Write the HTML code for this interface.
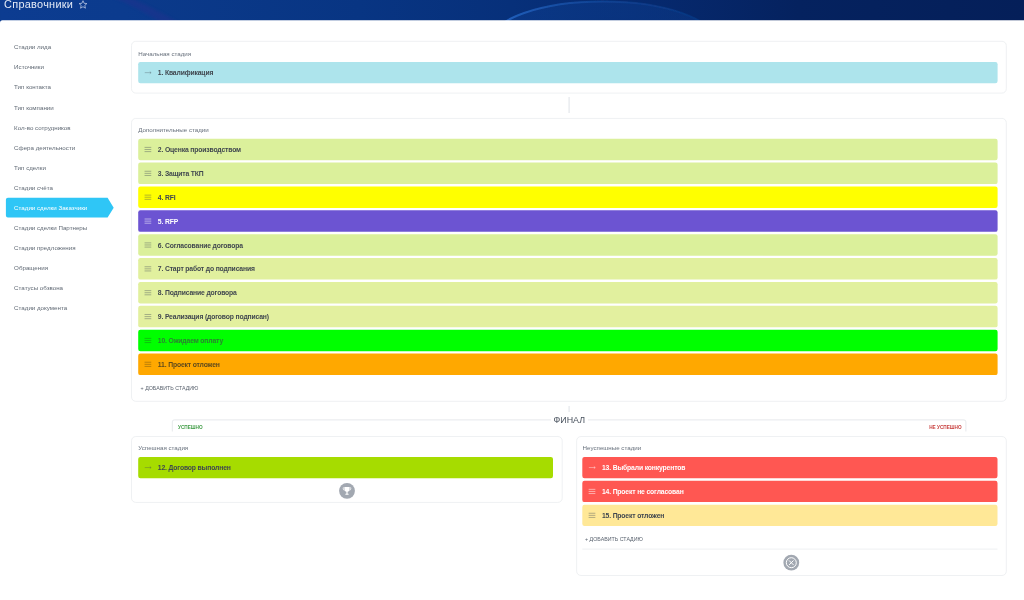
<!DOCTYPE html>
<html lang="ru"><head><meta charset="utf-8"><title>Справочники</title>
<style>
*{margin:0;padding:0;box-sizing:border-box}
html,body{width:1024px;height:600px;overflow:hidden;background:#fff}
body{position:relative;font-family:"Liberation Sans",Arial,sans-serif;color:#333}
.abs,.rt,.si,.lbl,.add,.tg{position:absolute;white-space:nowrap}
#hdr{left:0;top:0;width:1024px;height:24px;overflow:hidden;background:linear-gradient(90deg,#0c3b8f 0,#0b3a8b 12%,#083583 35%,#07307a 50%,#062a70 62%,#05225f 78%,#051f59 100%)}
#title{left:4.1px;top:-2.7px;font-size:10.9px;line-height:14px;color:#e4eaf6;letter-spacing:.28px}
.si{left:14.1px;height:20px;line-height:20px;font-size:6.2px;color:#616a75}
.si.act{color:#fff}
.lbl{font-size:6.2px;line-height:10px;color:#67707c}
.rt{font-weight:700;font-size:6.8px;letter-spacing:-.15px;color:#40474f}
.rt.w{color:#fff}
.rt.g{color:#2d7f33}
.rt.o{color:#5e4a1c}
.add{font-size:5.3px;line-height:8px;color:#59626e}
#fin{left:551px;top:411.5px;width:36.5px;height:16px;line-height:16px;text-align:center;background:#fff;font-size:8.9px;color:#48515d}
.tg{font-size:5.6px;line-height:8px;font-weight:700;transform:scaleX(.84)}
#bg{position:absolute;left:0;top:0}
#tx{position:absolute;left:0;top:0;width:1024px;height:600px;will-change:transform}
</style></head><body>
<div id="hdr" class="abs">
<svg width="1024" height="24" viewBox="0 0 1024 24" style="position:absolute;left:0;top:0">
<defs>
<linearGradient id="g1" x1="0" y1="0" x2="1" y2="0"><stop offset="0" stop-color="#2668c8" stop-opacity=".9"/><stop offset=".5" stop-color="#1a55ad" stop-opacity=".45"/><stop offset="1" stop-color="#0d3f8e" stop-opacity=".25"/></linearGradient>
<radialGradient id="g2" cx=".5" cy="1" r=".8"><stop offset="0" stop-color="#0a357e" stop-opacity=".0"/><stop offset="1" stop-color="#10469c" stop-opacity=".32"/></radialGradient>
<filter id="bl" x="-10%" y="-50%" width="120%" height="200%"><feGaussianBlur stdDeviation="1.6"/></filter>
<filter id="bl2" x="-10%" y="-10%" width="120%" height="120%"><feGaussianBlur stdDeviation=".7"/></filter>
</defs>
<ellipse cx="603" cy="40" rx="112" ry="39" fill="url(#g2)"/><ellipse cx="603" cy="40.6" rx="111.5" ry="39" fill="none" stroke="url(#g1)" stroke-width="2" filter="url(#bl2)"/>
<path d="M0 -4H112Q140 7 166 25H0Z" fill="#1146a2" opacity=".13" filter="url(#bl)"/><path d="M126 -4Q152 7 183 25H164Q140 8 110 -4Z" fill="#2b2f92" opacity=".36" filter="url(#bl)"/>
</svg>
</div>
<svg id="bg" width="1024" height="600" viewBox="0 0 1024 600">
<path d="M0 600V22.7A2.5 2.5 0 0 1 2.5 20.2H1024V600Z" fill="#fff"/>
<path d="M7.9 197.8H107.6L113.7 207.65L107.6 217.5H7.9A2 2 0 0 1 5.9 215.5V199.8A2 2 0 0 1 7.9 197.8Z" fill="#2fc6f6"/>
<rect x="131.5" y="41.3" width="874.80" height="51.80" rx="4.3" fill="#fff" stroke="#eff1f3" stroke-width="1"/>
<rect x="131.5" y="118.4" width="874.80" height="282.90" rx="4.3" fill="#fff" stroke="#eff1f3" stroke-width="1"/>
<rect x="131.5" y="436.5" width="430.70" height="65.90" rx="4.3" fill="#fff" stroke="#eff1f3" stroke-width="1"/>
<rect x="576.65" y="436.5" width="429.65" height="139.00" rx="4.3" fill="#fff" stroke="#eff1f3" stroke-width="1"/>
<path d="M569.1 97V113M569.1 405.9V412.4" stroke="#e4e7eb" stroke-width="1.2" fill="none"/>
<path d="M172.3 431.5V421.9A2 2 0 0 1 174.3 419.9H963.9A2 2 0 0 1 965.9 421.9V431.5" stroke="#e6e9ec" stroke-width="1" fill="none"/>
<rect x="138.2" y="62.0" width="859.4" height="21.3" rx="2.2" fill="#ade4ec"/>
<path d="M144.75 72.65h6.3M149.75 71.55l1.4 1.1l-1.4 1.1" stroke="rgba(70,80,90,.43)" stroke-width=".75" fill="none"/>
<rect x="138.2" y="138.75" width="859.4" height="21.5" rx="2.2" fill="#dbf09b"/>
<path d="M144.55 147.40h6.7M144.55 149.50h6.7M144.55 151.60h6.7" stroke="rgba(70,80,90,.43)" stroke-width=".95" fill="none"/>
<rect x="138.2" y="162.62" width="859.4" height="21.5" rx="2.2" fill="#dbf09b"/>
<path d="M144.55 171.27h6.7M144.55 173.37h6.7M144.55 175.47h6.7" stroke="rgba(70,80,90,.43)" stroke-width=".95" fill="none"/>
<rect x="138.2" y="186.49" width="859.4" height="21.5" rx="2.2" fill="#ffff00"/>
<path d="M144.55 195.14h6.7M144.55 197.24h6.7M144.55 199.34h6.7" stroke="rgba(70,80,90,.43)" stroke-width=".95" fill="none"/>
<rect x="138.2" y="210.36" width="859.4" height="21.5" rx="2.2" fill="#6c54d2"/>
<path d="M144.55 219.01h6.7M144.55 221.11h6.7M144.55 223.21h6.7" stroke="rgba(255,255,255,.54)" stroke-width=".95" fill="none"/>
<rect x="138.2" y="234.23" width="859.4" height="21.5" rx="2.2" fill="#dbf09b"/>
<path d="M144.55 242.88h6.7M144.55 244.98h6.7M144.55 247.08h6.7" stroke="rgba(70,80,90,.43)" stroke-width=".95" fill="none"/>
<rect x="138.2" y="258.1" width="859.4" height="21.5" rx="2.2" fill="#e1f09e"/>
<path d="M144.55 266.75h6.7M144.55 268.85h6.7M144.55 270.95h6.7" stroke="rgba(70,80,90,.43)" stroke-width=".95" fill="none"/>
<rect x="138.2" y="281.97" width="859.4" height="21.5" rx="2.2" fill="#e1f09e"/>
<path d="M144.55 290.62h6.7M144.55 292.72h6.7M144.55 294.82h6.7" stroke="rgba(70,80,90,.43)" stroke-width=".95" fill="none"/>
<rect x="138.2" y="305.84" width="859.4" height="21.5" rx="2.2" fill="#e3f09f"/>
<path d="M144.55 314.49h6.7M144.55 316.59h6.7M144.55 318.69h6.7" stroke="rgba(70,80,90,.43)" stroke-width=".95" fill="none"/>
<rect x="138.2" y="329.71" width="859.4" height="21.5" rx="2.2" fill="#00ff00"/>
<path d="M144.55 338.36h6.7M144.55 340.46h6.7M144.55 342.56h6.7" stroke="rgba(30,110,30,.43)" stroke-width=".95" fill="none"/>
<rect x="138.2" y="353.58" width="859.4" height="21.5" rx="2.2" fill="#ffa800"/>
<path d="M144.55 362.23h6.7M144.55 364.33h6.7M144.55 366.43h6.7" stroke="rgba(90,70,20,.43)" stroke-width=".95" fill="none"/>
<rect x="138.2" y="456.9" width="414.8" height="21.3" rx="2.2" fill="#a6dc00"/>
<path d="M144.75 467.55h6.3M149.75 466.45l1.4 1.1l-1.4 1.1" stroke="rgba(70,80,90,.43)" stroke-width=".75" fill="none"/>
<rect x="582.3" y="456.9" width="415.2" height="21.3" rx="2.2" fill="#ff5752"/>
<path d="M588.85 467.55h6.3M593.85 466.45l1.4 1.1l-1.4 1.1" stroke="rgba(255,255,255,.54)" stroke-width=".75" fill="none"/>
<rect x="582.3" y="480.8" width="415.2" height="21.3" rx="2.2" fill="#ff5752"/>
<path d="M588.65 489.35h6.7M588.65 491.45h6.7M588.65 493.55h6.7" stroke="rgba(255,255,255,.54)" stroke-width=".95" fill="none"/>
<rect x="582.3" y="504.7" width="415.2" height="21.3" rx="2.2" fill="#ffe897"/>
<path d="M588.65 513.25h6.7M588.65 515.35h6.7M588.65 517.45h6.7" stroke="rgba(70,80,90,.43)" stroke-width=".95" fill="none"/>
<path d="M582.3 549.1H997.5" stroke="#eef0f2" stroke-width="1" fill="none"/>
<path transform="translate(78.5 .2)" d="M4.5 .5L5.6 3.1L8.4 3.35L6.3 5.2L6.95 8L4.5 6.5L2.05 8L2.7 5.2L.6 3.35L3.4 3.1Z" fill="none" stroke="#cfd9ee" stroke-width=".7" stroke-linejoin="round"/>
<g transform="translate(339 482.8)"><circle cx="8" cy="8" r="7.9" fill="#a2a8b1"/><path d="M5.4 4.3H10.6V6.2C10.6 7.9 9.5 9.1 8 9.1C6.5 9.1 5.4 7.9 5.4 6.2ZM7.4 9H8.6V11H7.4ZM6.4 10.9H9.6V12H6.4Z" fill="#fff"/><path d="M5.2 5H4.2V6C4.2 6.9 4.8 7.4 5.6 7.5M10.8 5H11.8V6C11.8 6.9 11.2 7.4 10.4 7.5" fill="none" stroke="#fff" stroke-width=".7"/></g>
<g transform="translate(783.3 554.7)"><circle cx="8" cy="8" r="7.9" fill="#a2a8b1"/><circle cx="8" cy="8" r="5" fill="none" stroke="#fff" stroke-width="1"/><path d="M5.8 5.8L10.2 10.2M10.2 5.8L5.8 10.2" stroke="#fff" stroke-width="1" fill="none"/></g>
</svg>
<div id="tx">
<div class="rt d" style="left:157.80px;top:62.00px;height:21.3px;line-height:21.3px">1. Квалификация</div>
<div class="rt d" style="left:157.80px;top:139.02px;height:21.5px;line-height:21.5px">2. Оценка производством</div>
<div class="rt d" style="left:157.80px;top:162.89px;height:21.5px;line-height:21.5px">3. Защита ТКП</div>
<div class="rt d" style="left:157.80px;top:186.76px;height:21.5px;line-height:21.5px">4. RFI</div>
<div class="rt w" style="left:157.80px;top:210.63px;height:21.5px;line-height:21.5px">5. RFP</div>
<div class="rt d" style="left:157.80px;top:234.50px;height:21.5px;line-height:21.5px">6. Согласование договора</div>
<div class="rt d" style="left:157.80px;top:258.37px;height:21.5px;line-height:21.5px">7. Старт работ до подписания</div>
<div class="rt d" style="left:157.80px;top:282.24px;height:21.5px;line-height:21.5px">8. Подписание договора</div>
<div class="rt d" style="left:157.80px;top:306.11px;height:21.5px;line-height:21.5px">9. Реализация (договор подписан)</div>
<div class="rt g" style="left:157.80px;top:329.98px;height:21.5px;line-height:21.5px">10. Ожидаем оплату</div>
<div class="rt o" style="left:157.80px;top:353.85px;height:21.5px;line-height:21.5px">11. Проект отложен</div>
<div class="rt d" style="left:157.80px;top:457.00px;height:21.3px;line-height:21.3px">12. Договор выполнен</div>
<div class="rt w" style="left:601.90px;top:457.00px;height:21.3px;line-height:21.3px">13. Выбрали конкурентов</div>
<div class="rt w" style="left:601.90px;top:480.90px;height:21.3px;line-height:21.3px">14. Проект не согласован</div>
<div class="rt d" style="left:601.90px;top:504.80px;height:21.3px;line-height:21.3px">15. Проект отложен</div>
<div id="title" class="abs">Справочники</div>
<div class="si" style="top:37.30px">Стадии лида</div>
<div class="si" style="top:57.37px">Источники</div>
<div class="si" style="top:77.44px">Тип контакта</div>
<div class="si" style="top:97.51px">Тип компании</div>
<div class="si" style="top:117.58px">Кол-во сотрудников</div>
<div class="si" style="top:137.65px">Сфера деятельности</div>
<div class="si" style="top:157.72px">Тип сделки</div>
<div class="si" style="top:177.79px">Стадии счёта</div>
<div class="si act" style="top:197.86px">Стадии сделки Заказчики</div>
<div class="si" style="top:217.93px">Стадии сделки Партнеры</div>
<div class="si" style="top:238.00px">Стадии предложения</div>
<div class="si" style="top:258.07px">Обращения</div>
<div class="si" style="top:278.14px">Статусы обзвона</div>
<div class="si" style="top:298.21px">Стадии документа</div>
<div class="lbl" style="left:138.2px;top:48.6px">Начальная стадия</div>
<div class="lbl" style="left:138.2px;top:125.4px">Дополнительные стадии</div>
<div class="lbl" style="left:138.2px;top:443.3px">Успешная стадия</div>
<div class="lbl" style="left:582.6px;top:443.4px">Неуспешные стадии</div>
<div class="add" style="left:140.6px;top:384.2px">+ ДОБАВИТЬ СТАДИЮ</div>
<div class="add" style="left:585px;top:535.1px">+ ДОБАВИТЬ СТАДИЮ</div>
<div id="fin" class="abs">ФИНАЛ</div>
<div class="tg" style="left:177.8px;top:422.5px;color:#3f9c45;transform-origin:0 0">УСПЕШНО</div>
<div class="tg" style="right:62.8px;top:422.5px;color:#c8403f;transform-origin:100% 0">НЕ УСПЕШНО</div>
</div>
</body></html>
